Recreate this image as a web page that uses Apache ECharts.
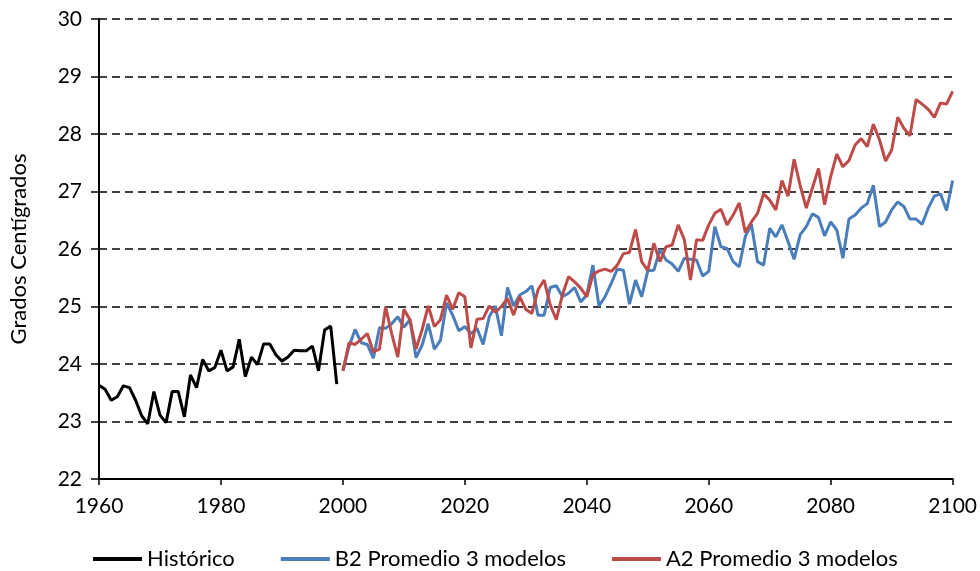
<!DOCTYPE html>
<html>
<head>
<meta charset="utf-8">
<script src="https://cdn.jsdelivr.net/npm/echarts@6/dist/echarts.min.js"></script>
<style>
html,body{margin:0;padding:0;background:#fff;}
#c{width:980px;height:571px;}
</style>
</head>
<body>
<div id="c"></div>
<script>
// Tick labels / axis
const xTicks = [1960, 1980, 2000, 2020, 2040, 2060, 2080, 2100];
const yTicks = [22, 23, 24, 25, 26, 27, 28, 29, 30];
const seriesNames = ['Histórico', 'B2 Promedio 3 modelos', 'A2 Promedio 3 modelos'];

// Histórico 1960-1999
const histStart = 1960;
const historico = [23.63, 23.56, 23.37, 23.43, 23.62, 23.59, 23.37, 23.10, 22.96, 23.52,
  23.11, 22.98, 23.52, 23.52, 23.08, 23.81, 23.59, 24.08, 23.88, 23.94,
  24.24, 23.88, 23.95, 24.43, 23.78, 24.12, 23.99, 24.35, 24.35, 24.16,
  24.05, 24.12, 24.24, 24.23, 24.23, 24.31, 23.88, 24.59, 24.66, 23.65];

// Projections 2000-2100
const projStart = 2000;
const b2 = [23.88, 24.30, 24.60, 24.37, 24.34, 24.10, 24.63, 24.62, 24.70, 24.82,
  24.64, 24.77, 24.11, 24.33, 24.70, 24.26, 24.41, 25.06, 24.85, 24.58,
  24.65, 24.53, 24.62, 24.34, 24.82, 25.01, 24.49, 25.33, 25.01, 25.20,
  25.26, 25.36, 24.85, 24.85, 25.33, 25.36, 25.17, 25.23, 25.33, 25.08,
  25.20, 25.72, 25.01, 25.17, 25.40, 25.65, 25.63, 25.04, 25.46, 25.17,
  25.62, 25.63, 25.99, 25.81, 25.74, 25.61, 25.84, 25.82, 25.81, 25.53,
  25.61, 26.39, 26.04, 26.01, 25.78, 25.69, 26.22, 26.43, 25.78, 25.72,
  26.36, 26.21, 26.42, 26.13, 25.82, 26.25, 26.39, 26.61, 26.55, 26.23,
  26.47, 26.33, 25.84, 26.52, 26.59, 26.71, 26.79, 27.11, 26.39, 26.47,
  26.68, 26.82, 26.74, 26.52, 26.52, 26.43, 26.71, 26.92, 26.96, 26.67,
  27.19];
const a2 = [23.88, 24.37, 24.34, 24.43, 24.53, 24.21, 24.26, 24.99, 24.53, 24.12,
  24.95, 24.77, 24.26, 24.60, 25.01, 24.65, 24.77, 25.20, 24.95, 25.24,
  25.17, 24.28, 24.78, 24.79, 25.01, 24.90, 25.00, 25.14, 24.85, 25.17,
  24.95, 24.88, 25.29, 25.46, 25.03, 24.77, 25.20, 25.52, 25.43, 25.32,
  25.17, 25.55, 25.62, 25.65, 25.61, 25.72, 25.92, 25.94, 26.34, 25.78,
  25.63, 26.10, 25.78, 26.04, 26.07, 26.42, 26.16, 25.46, 26.16, 26.15,
  26.42, 26.62, 26.69, 26.42, 26.59, 26.80, 26.29, 26.47, 26.62, 26.96,
  26.85, 26.68, 27.19, 26.92, 27.56, 27.10, 26.71, 27.06, 27.40, 26.77,
  27.26, 27.65, 27.43, 27.54, 27.81, 27.92, 27.78, 28.17, 27.90, 27.53,
  27.72, 28.29, 28.10, 27.97, 28.60, 28.52, 28.43, 28.29, 28.54, 28.52,
  28.74];

function pairs(start, vals) { return vals.map((v, i) => [start + i, v]); }

const FONT = 'Lato';
const chart = echarts.init(document.getElementById('c'), null, {renderer: 'canvas'});
chart.setOption({
  animation: false,
  backgroundColor: '#ffffff',
  grid: {left: 98, right: 26, top: 19, bottom: 92, containLabel: false},
  xAxis: {
    type: 'value',
    min: xTicks[0], max: xTicks[xTicks.length - 1], interval: 20,
    axisLine: {show: true, onZero: false, lineStyle: {color: '#000', width: 2}},
    axisTick: {show: true, length: 6, lineStyle: {color: '#000', width: 1.5}},
    axisLabel: {color: '#000', fontFamily: FONT, fontSize: 21, margin: 17,
      formatter: v => String(v)},
    splitLine: {show: false}
  },
  yAxis: {
    type: 'value',
    min: yTicks[0], max: yTicks[yTicks.length - 1], interval: 1,
    name: 'Grados Centígrados',
    nameLocation: 'middle', nameGap: 69, nameRotate: 90,
    nameTextStyle: {color: '#000', fontFamily: FONT, fontSize: 22},
    axisLine: {show: true, lineStyle: {color: '#000', width: 2}},
    axisTick: {show: true, length: 8, lineStyle: {color: '#000', width: 1.5}},
    axisLabel: {color: '#000', fontFamily: FONT, fontSize: 21, margin: 17,
      formatter: v => String(v)},
    splitLine: {show: true, lineStyle: {color: '#000', width: 1.5, type: [8, 5]}}
  },
  legend: {
    top: 543, left: 88,
    itemWidth: 49, itemHeight: 4, itemGap: 46,
    icon: 'rect',
    textStyle: {color: '#000', fontFamily: FONT, fontSize: 22},
    data: seriesNames
  },
  series: [
    {name: seriesNames[0], type: 'line', data: pairs(histStart, historico), showSymbol: false, symbol: 'none',
     lineStyle: {color: '#000000', width: 3}, itemStyle: {color: '#000000'}, z: 3},
    {name: seriesNames[1], type: 'line', data: pairs(projStart, b2), showSymbol: false, symbol: 'none',
     lineStyle: {color: '#4A7EBB', width: 3}, itemStyle: {color: '#4A7EBB'}, z: 2},
    {name: seriesNames[2], type: 'line', data: pairs(projStart, a2), showSymbol: false, symbol: 'none',
     lineStyle: {color: '#BE4B48', width: 3}, itemStyle: {color: '#BE4B48'}, z: 4}
  ]
});
</script>
</body>
</html>
